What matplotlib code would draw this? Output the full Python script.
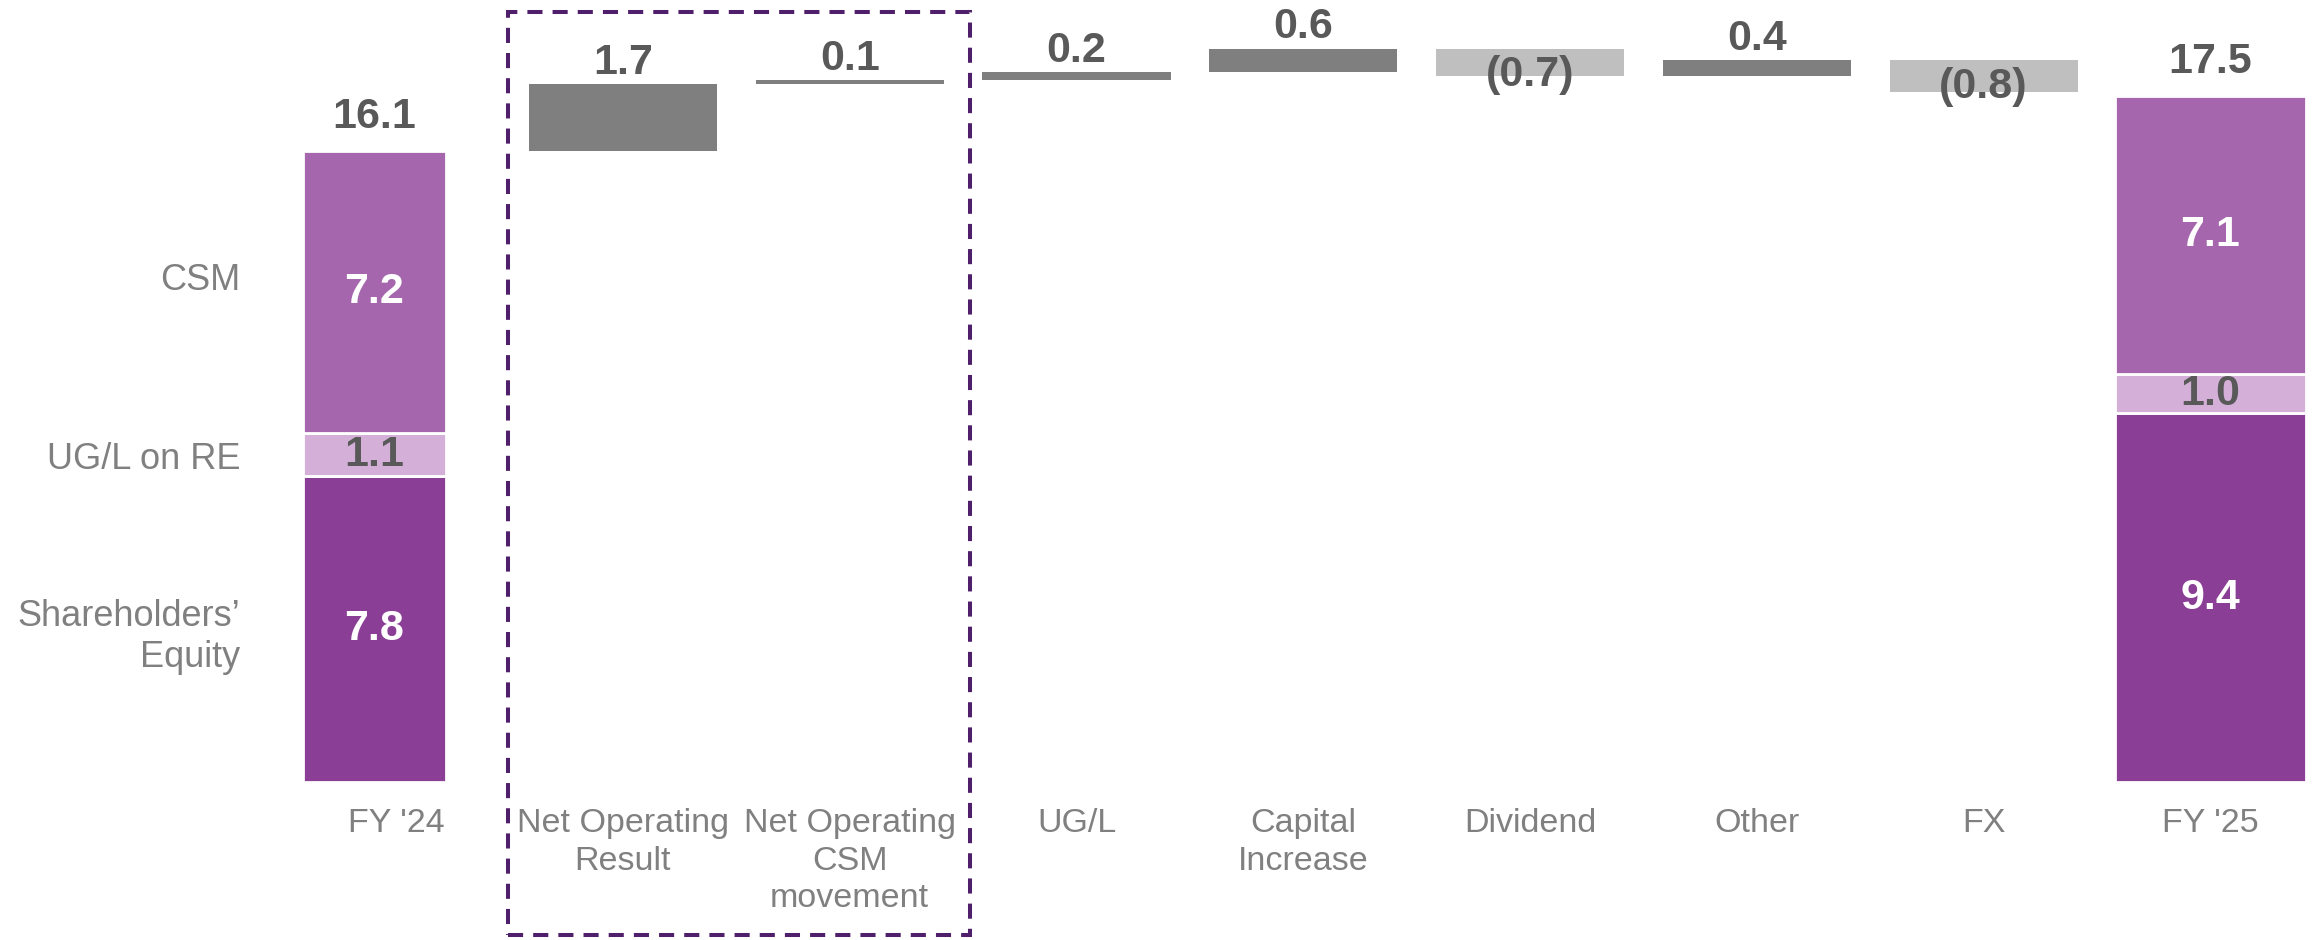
import matplotlib.pyplot as plt
import numpy as np
from matplotlib.patches import Rectangle

plt.rcParams['font.family'] = ['Liberation Sans', 'DejaVu Sans']

# data
categories = ["FY '24", "Net Operating\nResult", "Net Operating\nCSM\nmovement", "UG/L",
              "Capital\nIncrease", "Dividend", "Other", "FX", "FY '25"]
segment_names = ["Shareholders’\nEquity", "UG/L on RE", "CSM"]
fy24_parts = [7.8, 1.1, 7.2]
fy25_parts = [9.4, 1.0, 7.1]
fy24_total = 16.1
fy25_total = 17.5
steps = [1.7, 0.1, 0.2, 0.6, -0.7, 0.4, -0.8]

seg_colors = ['#8b3e96', '#d4b0d8', '#a566ad']
seg_text = ['white', '#595959', 'white']
name_shift = [-0.2, -0.12, 0.3]   # small nudges of the left-hand names
pos_color = '#7f7f7f'
neg_color = '#bfbfbf'
label_grey = '#808080'
value_grey = '#595959'

fig = plt.figure(figsize=(23.15, 9.4), dpi=100)
ax = fig.add_axes([0, 0, 1, 1])
ax.set_xlim(-1.747, 8.461)
ax.set_ylim(-4.026, 19.94)
ax.axis('off')


def stack(xc, w, parts, total):
    bottom = 0
    for val, c, tc in zip(parts, seg_colors, seg_text):
        ax.bar(xc, val, w, bottom=bottom, color=c, edgecolor='white', linewidth=2)
        ax.text(xc, bottom + val / 2, f'{val:.1f}', ha='center', va='center',
                fontsize=31, fontweight='bold', color=tc)
        bottom += val
    ax.text(xc, total + 0.35, f'{total:.1f}', ha='center', va='bottom',
            fontsize=31, fontweight='bold', color=value_grey)


# start column (slightly narrower and shifted left)
stack(-0.097, 0.63, fy24_parts, fy24_total)

# waterfall steps
level = fy24_total
for i, s in enumerate(steps):
    x = i + 1
    if s >= 0:
        ax.bar(x, s, 0.83, bottom=level, color=pos_color, linewidth=0)
        ax.text(x, level + s + 0.03, f'{s:.1f}', ha='center', va='bottom',
                fontsize=31, fontweight='bold', color=value_grey)
    else:
        ax.bar(x, -s, 0.83, bottom=level + s, color=neg_color, linewidth=0)
        ax.text(x, level - 0.17, f'({-s:.1f})', ha='center', va='top',
                fontsize=31, fontweight='bold', color=value_grey)
    level += s

# end column
stack(8, 0.846, fy25_parts, fy25_total)

# segment names on the left
bottom = 0
for val, name, dy in zip(fy24_parts, segment_names, name_shift):
    ax.text(-0.686, bottom + val / 2 + dy, name, ha='right', va='center',
            fontsize=26, color=label_grey, linespacing=1.2)
    bottom += val

# category labels
for i, cat in enumerate(categories):
    ax.text(i, -0.66, cat, ha='center', va='top', fontsize=24.5,
            color=label_grey, linespacing=1.28)

# dashed box around operating items
box = Rectangle((0.492, -3.91), 2.53 - 0.492, 19.64 + 3.91, fill=False,
                edgecolor='#4f1f6b', linewidth=2.9, linestyle=(0, (3.75, 2.5)))
ax.add_patch(box)

fig.savefig('out.png', dpi=100)
